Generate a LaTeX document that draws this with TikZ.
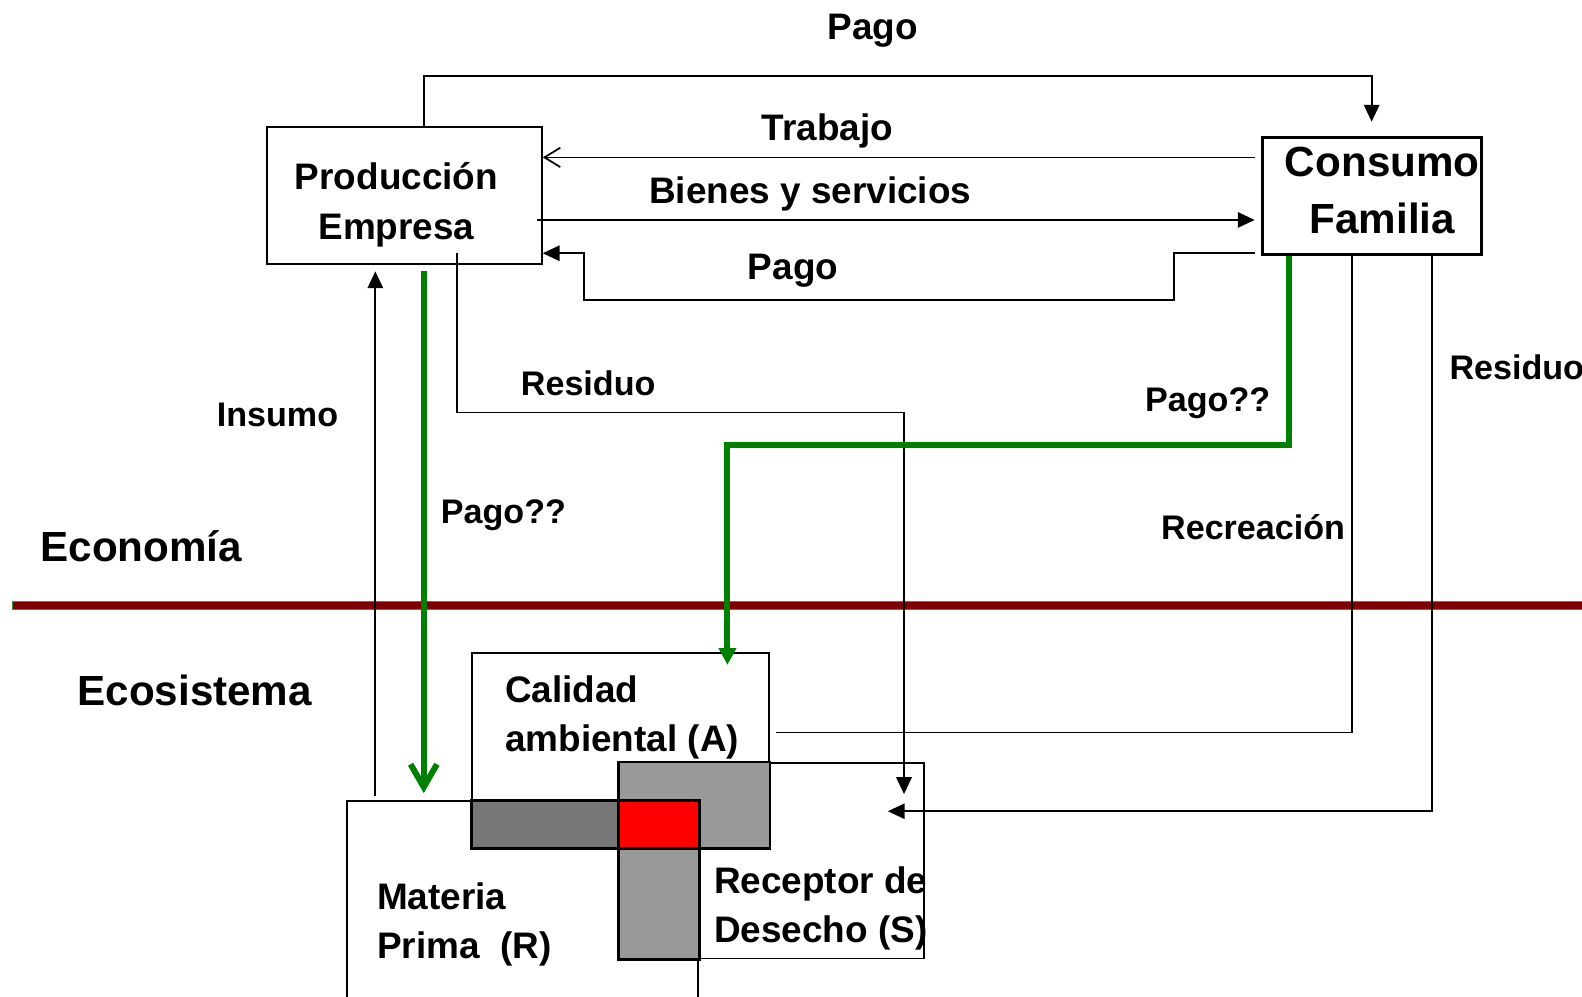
\documentclass[tikz,border=0pt]{standalone}
\usepackage{fontspec}
\setmainfont{Liberation Sans}
\usetikzlibrary{arrows.meta,calc,positioning}

\newcommand{\pxu}{0.01009cm}
\definecolor{overlap}{HTML}{999999}
\definecolor{overlapdark}{HTML}{777777}
\definecolor{paygreen}{HTML}{008000}
\definecolor{bordergreen}{HTML}{2E9A2E}
\definecolor{borderred}{HTML}{7F0000}

\tikzset{
  box/.style 2 args={draw, fill=white, line width=0.55pt, inner sep=0pt,
    minimum width=#1*\pxu, minimum height=#2*\pxu},
  txt/.style={font=\fontsize{10.5}{12}\selectfont\bfseries, inner sep=0pt, anchor=base},
  stxt/.style={font=\fontsize{9.7}{11}\selectfont\bfseries, inner sep=0pt, anchor=base},
  btxt/.style={font=\fontsize{12}{14}\selectfont\bfseries, inner sep=0pt, anchor=base},
  flow/.style={line width=0.5pt, -{Triangle[length=4.8pt,width=4.4pt]}},
  back/.style={line width=0.5pt, -{Straight Barb[length=4.5pt,width=5.5pt]}},
  pay/.style={paygreen, line width=1.7pt},
}

\begin{document}
\begin{tikzpicture}[x=\pxu, y=-\pxu]
\useasboundingbox (0,0) rectangle (1568,988);

% frontera economia / ecosistema
\draw[bordergreen, line width=2.7pt] (12,600) -- (1568,600);
\draw[borderred, line width=1.8pt] (13,600) -- (1568,600);

% cajas
\node[box={272}{136}] (prod) at (401,194) {};
\node[box={217}{116}, line width=0.85pt] (cons) at (1359.5,194) {};
\node[box={294}{193}] (cal) at (615,743.5) {};
\node[box={302}{194}] (rec) at (765,853) {};
\node[box={348}{216}] (mat) at (518,902) {};

% zonas comunes
\draw[fill=overlap, line width=0.6pt] (rec.north west) rectangle (cal.south east);
\draw[fill=overlapdark, line width=0.8pt] (cal.south west |- mat.north) rectangle (rec.west |- cal.south);
\draw[fill=overlap, line width=0.8pt] (rec.west |- cal.south) rectangle (mat.east |- rec.south);
\draw[fill=red, line width=0.9pt] (rec.west |- mat.north) rectangle (mat.east |- cal.south);

% flujos
\draw[flow, shorten >=4pt] ($(prod.north)+(19,0)$) -- ++(0,-50) -| (cons.north);
\draw[back] ($(cons.west)+(-6,-38)$) -- ($(prod.east)+(0,-38)$);
\draw[flow] ($(prod.east)+(-6,24)$) -- ($(cons.west)+(-6,24)$);
\draw[flow] ($(cons.west)+(-6,57)$) -- ++(-80,0) |- (579,297) |- ($(prod.east)+(0,57)$);
\draw[flow] ($(mat.north)+(-146,-4)$) -- ($(prod.south)+(-29,6)$);
\draw[flow] ($(prod.south)+(52,-12)$) -- ++(0,158) -| ($(rec.north)+(131,32)$);
\draw[line width=0.5pt] ($(cons.south)+(-19.5,0)$) |- ($(cal.east)+(6,-17.5)$);
\draw[flow] ($(cons.south)+(59.5,0)$) |- ($(rec.north)+(115,49)$);
\draw[pay, -{Straight Barb[length=6.5pt,width=7.5pt]}] ($(prod.south)+(19,6)$) -- ($(mat.north)+(-98,-7)$);
\draw[pay, -{Triangle[length=4.8pt,width=4.8pt]}] ($(cons.south)+(-82,0)$) -- ++(0,188) -| ($(cal.north)+(106,13)$);

% textos
\node[txt] (pagotop) at (865,39) {Pago};
\node[txt] (trabajo) at (820,139) {Trabajo};
\node[txt] (bienes) at (803,202) {Bienes y servicios};
\node[txt] (pagomid) at (786,277) {Pago};
\node[txt] (prodA) at (393,188) {Producción};
\node[txt] (prodB) at (393,237) {Empresa};
\node[btxt] (consA) at (1370,175) {Consumo};
\node[btxt] (consB) at (1370,231) {Familia};
\node[stxt] (resA) at (583,392) {Residuo};
\node[stxt] (insumo) at (275,423) {Insumo};
\node[stxt] (pagoA) at (499,519) {Pago??};
\node[stxt] (pagoB) at (1197,408) {Pago??};
\node[stxt] (recrea) at (1242,535) {Recreación};
\node[stxt, anchor=base west] (resB) at (1436,376) {Residuo};
\node[btxt] (econ) at (140,557) {Economía};
\node[btxt] (ecos) at (193,699) {Ecosistema};
\node[txt, anchor=base west] (calA) at (500,696) {Calidad};
\node[txt, anchor=base west] (calB) at (500,745) {ambiental (A)};
\node[txt, anchor=base west] (recA) at (707,886) {Receptor de};
\node[txt, anchor=base west] (recB) at (707,934) {Desecho (S)};
\node[txt, anchor=base west] (matA) at (373,901) {Materia};
\node[txt, anchor=base west] (matB) at (373,950) {Prima\ \ (R)};
\end{tikzpicture}
\end{document}
